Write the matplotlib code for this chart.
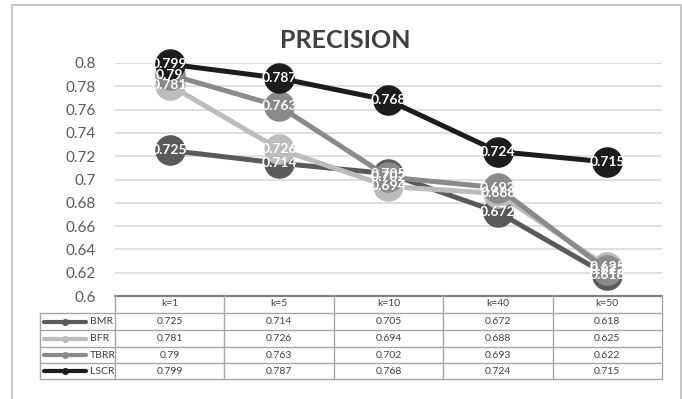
import matplotlib.pyplot as plt
from matplotlib.patches import Rectangle

# chart data
k_labels = ["k=1", "k=5", "k=10", "k=40", "k=50"]
series_names = ["BMR", "BFR", "TBRR", "LSCR"]
bmr = [0.725, 0.714, 0.705, 0.672, 0.618]
bfr = [0.781, 0.726, 0.694, 0.688, 0.625]
tbrr = [0.79, 0.763, 0.702, 0.693, 0.622]
lscr = [0.799, 0.787, 0.768, 0.724, 0.715]
y_ticks = [0.6, 0.62, 0.64, 0.66, 0.68, 0.7, 0.72, 0.74, 0.76, 0.78, 0.8]

series = [bmr, bfr, tbrr, lscr]
colors = ["#5a5a5a", "#bcbcbc", "#8a8a8a", "#1c1c1c"]

plt.rcParams["font.family"] = ["Lato", "DejaVu Sans"]

W, H = 682, 399
fig = plt.figure(figsize=(W / 100, H / 100), dpi=100)

# outer frame
fig.patches.append(Rectangle((12 / W, -0.02), (681 - 12) / W, (H - 5) / H + 0.02,
                             transform=fig.transFigure, fill=False,
                             edgecolor="#c8c8c8", linewidth=1.5))

# main plot area (pixel layout)
px_left, px_right, px_top, px_bottom = 115, 662, 63, 296
ax = fig.add_axes([px_left / W, (H - px_bottom) / H,
                   (px_right - px_left) / W, (px_bottom - px_top) / H])
x = list(range(len(k_labels)))
ax.set_xlim(-0.5, len(k_labels) - 0.5)
ax.set_ylim(0.6, 0.8)
ax.set_yticks(y_ticks)
ax.set_yticklabels([f"{v:g}" for v in y_ticks], fontsize=11, color="#595959")
ax.tick_params(axis="y", length=0, pad=14)
ax.set_xticks([])
ax.grid(axis="y", color="#d9d9d9", linewidth=1.2)
ax.set_axisbelow(True)
for side in ["left", "right", "top"]:
    ax.spines[side].set_visible(False)
ax.spines["bottom"].set_color("#808080")
ax.spines["bottom"].set_linewidth(1.6)

for i, (vals, c) in enumerate(zip(series, colors)):
    ax.plot(x, vals, color=c, linewidth=3.6, marker="o", markersize=21,
            markerfacecolor=c, markeredgecolor=c, zorder=3 + i, clip_on=False)
for vals in series:
    for xi, v in zip(x, vals):
        ax.text(xi, v, f"{v:g}", ha="center", va="center", color="white",
                fontsize=10, fontweight="bold", zorder=10, clip_on=False)

fig.text(345 / W, (H - 40) / H, "PRECISION", ha="center", va="center",
         fontsize=18, fontweight="bold", color="#404040")

# data table under the chart
t_left, t_right, t_top, t_bottom = 40, 662, 295, 379
tax = fig.add_axes([t_left / W, (H - t_bottom) / H,
                    (t_right - t_left) / W, (t_bottom - t_top) / H])
tax.set_xlim(t_left, t_right)
tax.set_ylim(t_bottom, t_top)
tax.axis("off")

col_w = (t_right - px_left) / len(k_labels)
row_edges = [295, 313, 330, 347, 363, 379]
line_c = "#a6a6a6"
for r in row_edges[1:]:
    tax.plot([t_left, t_right], [r, r], color=line_c, linewidth=1, clip_on=False)
tax.plot([t_left, t_left], [row_edges[1], row_edges[-1]], color=line_c, linewidth=1, clip_on=False)
for j in range(len(k_labels) + 1):
    xe = px_left + j * col_w
    tax.plot([xe, xe], [row_edges[0], row_edges[-1]], color=line_c, linewidth=1, clip_on=False)

for j, lab in enumerate(k_labels):
    tax.text(px_left + (j + 0.5) * col_w, (row_edges[0] + row_edges[1]) / 2, lab,
             ha="center", va="center", fontsize=7.5, color="#404040")

for i, (name, vals, c) in enumerate(zip(series_names, series, colors)):
    yc = (row_edges[i + 1] + row_edges[i + 2]) / 2
    tax.plot([44, 86], [yc, yc], color=c, linewidth=3, solid_capstyle="round")
    tax.plot([65], [yc], marker="o", markersize=4, color=c)
    tax.text(90, yc, name, ha="left", va="center", fontsize=7.5, color="#404040")
    for j, v in enumerate(vals):
        tax.text(px_left + (j + 0.5) * col_w, yc, f"{v:g}", ha="center", va="center",
                 fontsize=7.5, color="#404040")

fig.savefig("out.png", dpi=100)
